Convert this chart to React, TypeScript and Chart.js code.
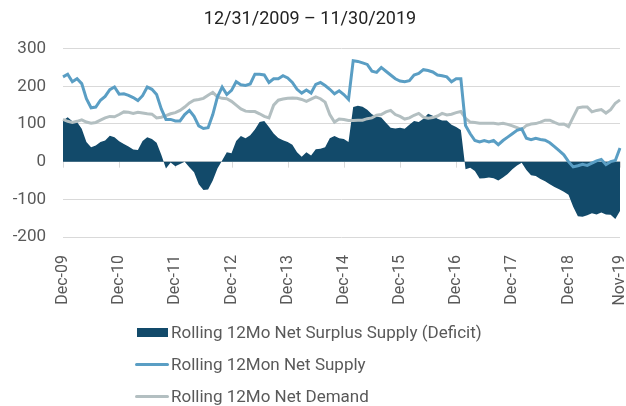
import React, { useEffect, useRef } from "react";
import { Chart, registerables } from "chart.js";

Chart.register(...registerables);

const TITLE = "12/31/2009 – 11/30/2019";
const MONTH_NAMES = ["Jan", "Feb", "Mar", "Apr", "May", "Jun", "Jul", "Aug", "Sep", "Oct", "Nov", "Dec"];
const START_YEAR = 2009;
const START_MONTH = 11; // Dec
const MONTH_COUNT = 120;

const SERIES_NAMES = [
  "Rolling 12Mo Net Surplus Supply (Deficit)",
  "Rolling 12Mon Net Supply",
  "Rolling 12Mo Net Demand",
];

const SURPLUS = [
  109, 118, 107, 105, 87, 52, 38, 43, 52, 56, 69, 65,
  54, 47, 40, 32, 31, 55, 65, 60, 50, 18, -18, -2,
  -12, -6, 0, -15, -28, -60, -75, -74, -50, -18, 3, 25,
  22, 55, 68, 62, 70, 85, 105, 108, 92, 75, 63, 57,
  52, 45, 25, 13, 25, 16, 33, 34, 38, 62, 68, 62,
  60, 52, 145, 148, 146, 138, 126, 120, 117, 103, 90, 88,
  90, 87, 98, 108, 105, 114, 127, 122, 114, 109, 109, 98,
  92, 84, -20, -16, -25, -45, -44, -42, -44, -50, -42, -33,
  -20, -10, -3, -22, -36, -38, -46, -52, -60, -67, -73, -80,
  -88, -120, -145, -146, -142, -137, -140, -135, -140, -141, -152, -131,
];

const SUPPLY = [
  225, 232, 212, 220, 207, 167, 143, 145, 163, 173, 191, 198,
  179, 180, 176, 170, 162, 175, 198, 192, 178, 140, 112, 112,
  108, 108, 125, 136, 120, 95, 88, 90, 125, 172, 198, 178,
  189, 212, 204, 202, 206, 232, 232, 230, 210, 220, 220, 228,
  222, 210, 192, 182, 190, 182, 205, 210, 202, 192, 180, 188,
  178, 165, 268, 266, 262, 258, 240, 237, 250, 240, 230, 220,
  214, 212, 215, 230, 234, 244, 242, 238, 230, 228, 225, 212,
  220, 220, 96, 74, 56, 52, 56, 52, 56, 45, 56, 65,
  74, 83, 87, 62, 58, 62, 59, 57, 50, 40, 29, 18,
  0, -14, -11, -7, -10, -4, 2, 6, -8, 0, 3, 36,
];

const DEMAND = [
  112, 107, 104, 107, 111, 105, 102, 104, 110, 116, 120, 119,
  125, 132, 131, 128, 131, 129, 127, 126, 116, 118, 122, 127,
  130, 136, 145, 156, 163, 165, 168, 176, 184, 172, 168, 167,
  160, 150, 140, 134, 133, 133, 127, 120, 116, 150, 163, 166,
  168, 169, 168, 165, 160, 166, 172, 167, 158, 125, 105, 113,
  112, 109, 109, 110, 110, 114, 116, 123, 125, 132, 136, 125,
  120, 113, 116, 123, 128, 118, 115, 117, 121, 128, 124, 126,
  130, 133, 115, 105, 104, 102, 102, 102, 102, 100, 102, 99,
  95, 90, 85, 96, 100, 101, 105, 110, 110, 104, 99, 100,
  93, 118, 143, 145, 145, 132, 136, 138, 129, 138, 155, 164,
];

const Y_MIN = -200;
const Y_MAX = 300;
const Y_STEP = 100;

const NAVY = "#124a6a";
const BLUE = "#5a9ec4";
const GRAY = "#b3bfc1";
const TEXT = "#595959";
const GRID = "#d9d9d9";
const FONT = "Roboto";

const LABELS: string[] = [];
for (let i = 0; i < MONTH_COUNT; i++) {
  const m = (START_MONTH + i) % 12;
  const y = START_YEAR + Math.floor((START_MONTH + i) / 12);
  LABELS.push(`${MONTH_NAMES[m]}-${String(y % 100).padStart(2, "0")}`);
}
const isShown = (i: number) => i % 12 === 0 || i === LABELS.length - 1;

const zeroTicks = {
  id: "zeroTicks",
  beforeDatasetsDraw(chart: any) {
    const { ctx, scales } = chart;
    const x = scales.x;
    const y0 = scales.y.getPixelForValue(0);
    ctx.save();
    ctx.strokeStyle = GRID;
    ctx.lineWidth = 1;
    ctx.beginPath();
    for (let i = 0; i < LABELS.length; i++) {
      if (!isShown(i)) continue;
      const px = Math.round(x.getPixelForValue(i)) + 0.5;
      ctx.moveTo(px, y0);
      ctx.lineTo(px, y0 + 6);
    }
    ctx.stroke();
    ctx.restore();
  },
};

export default function App() {
  const ref = useRef<HTMLCanvasElement>(null);

  useEffect(() => {
    if (!ref.current) return;
    const chart = new Chart(ref.current, {
      type: "line",
      data: {
        labels: LABELS,
        datasets: [
          {
            label: SERIES_NAMES[0],
            data: SURPLUS,
            fill: "origin",
            backgroundColor: NAVY,
            borderColor: NAVY,
            borderWidth: 0,
            pointRadius: 0,
            tension: 0,
            order: 3,
          },
          {
            label: SERIES_NAMES[1],
            data: SUPPLY,
            fill: false,
            borderColor: BLUE,
            borderWidth: 3,
            pointRadius: 0,
            tension: 0,
            order: 1,
          },
          {
            label: SERIES_NAMES[2],
            data: DEMAND,
            fill: false,
            borderColor: GRAY,
            borderWidth: 3,
            pointRadius: 0,
            tension: 0,
            order: 2,
          },
        ],
      },
      options: {
        responsive: false,
        animation: false,
        layout: { padding: { left: 0, right: 6, top: 0, bottom: 0 } },
        plugins: {
          legend: { display: false },
          tooltip: { enabled: false },
          title: {
            display: true,
            text: TITLE,
            color: "#222222",
            font: { family: FONT, size: 18, weight: "normal" },
            padding: { top: 9, bottom: 18 },
          },
        },
        scales: {
          x: {
            type: "category",
            grid: { display: false },
            border: { display: false },
            ticks: {
              autoSkip: false,
              maxRotation: 90,
              minRotation: 90,
              padding: 10,
              color: TEXT,
              font: { family: FONT, size: 16 },
              callback: (_v: any, i: number) => (isShown(i) ? LABELS[i] : ""),
            },
            afterFit: (s: any) => {
              s.height = 169;
              s.paddingLeft = 0;
              s.paddingRight = 0;
            },
          },
          y: {
            min: Y_MIN,
            max: Y_MAX,
            grid: { color: GRID, lineWidth: 1, drawTicks: false },
            border: { display: false },
            ticks: {
              stepSize: Y_STEP,
              padding: 17,
              color: TEXT,
              font: { family: FONT, size: 17 },
            },
            afterFit: (s: any) => {
              s.width = 63;
            },
          },
        },
      },
      plugins: [zeroTicks],
    });
    return () => chart.destroy();
  }, []);

  const legendRows = [
    { name: SERIES_NAMES[0], kind: "area", color: NAVY },
    { name: SERIES_NAMES[1], kind: "line", color: BLUE },
    { name: SERIES_NAMES[2], kind: "line", color: GRAY },
  ];

  return (
    <div style={{ position: "fixed", left: 0, top: 0, width: 626, height: 406, background: "#fff" }}>
      <canvas ref={ref} width={626} height={406} style={{ display: "block" }} />
      <div style={{ position: "absolute", left: 135, top: 316, fontFamily: FONT, fontSize: 17, color: TEXT }}>
        {legendRows.map((r) => (
          <div key={r.name} style={{ display: "flex", alignItems: "center", height: 32 }}>
            {r.kind === "area" ? (
              <span style={{ display: "inline-block", width: 31, height: 9, background: r.color, marginLeft: 2, marginRight: 3 }} />
            ) : (
              <span style={{ display: "inline-block", width: 34, height: 3, borderRadius: 2, background: r.color, marginRight: 2 }} />
            )}
            <span style={{ whiteSpace: "nowrap" }}>{r.name}</span>
          </div>
        ))}
      </div>
    </div>
  );
}
